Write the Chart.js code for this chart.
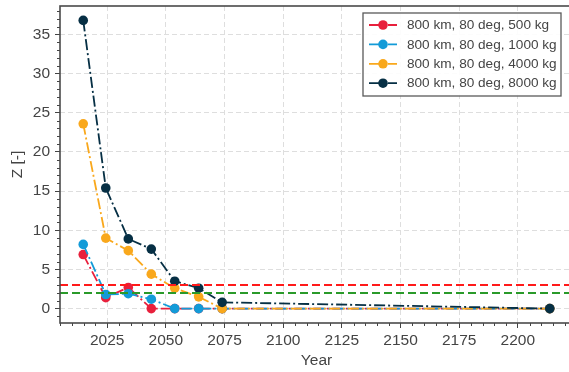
<!DOCTYPE html>
<html>
<head>
<meta charset="utf-8">
<script src="https://cdn.jsdelivr.net/npm/chart.js@4/dist/chart.umd.min.js"></script>
<style>
  html, body { margin: 0; padding: 0; overflow: hidden; background: #ffffff; }
  #wrap { width: 580px; height: 372px; }
</style>
</head>
<body>
<div id="wrap"><canvas id="chart" width="580" height="372"></canvas></div>
<script>
// Launch years shared by every configuration
const years = [2014.8, 2024.4, 2034.0, 2043.8, 2053.8, 2064.0, 2074.0, 2213.6];

// Z [-] for each spacecraft mass (800 km, 80 deg orbit)
const z500  = [6.9, 1.4, 2.7, 0.0, 0.0, 0.0, 0.0, 0.0];
const z1000 = [8.2, 1.8, 1.9, 1.2, 0.0, 0.0, 0.0, 0.0];
const z4000 = [23.6, 9.0, 7.4, 4.4, 2.6, 1.5, 0.0, 0.0];
const z8000 = [36.8, 15.4, 8.9, 7.6, 3.5, 2.6, 0.8, 0.0];

const seriesLabels = [
  '800 km, 80 deg, 500 kg',
  '800 km, 80 deg, 1000 kg',
  '800 km, 80 deg, 4000 kg',
  '800 km, 80 deg, 8000 kg'
];

// Reference thresholds
const limitUpper = 3;
const limitLower = 2;

// Axis ticks
const xTicks = [2025, 2050, 2075, 2100, 2125, 2150, 2175, 2200];
const yTicks = [0, 5, 10, 15, 20, 25, 30, 35];
const xMinorStep = 5;
const yMinorStep = 1;

const X_MIN = 2004.9, X_MAX = 2223.5;
const Y_MIN = -1.84, Y_MAX = 38.64;

const colors = ['#e8203c', '#139bd8', '#f9a81c', '#062f44'];
const TEXT = '#444444';
const FONT = "'Liberation Sans', Arial, sans-serif";

const seriesValues = [z500, z1000, z4000, z8000];
const lineDash = [11, 3, 2, 3];

const datasets = seriesValues.map((vals, i) => ({
  label: seriesLabels[i],
  data: years.map((x, k) => ({ x: x, y: vals[k] })),
  borderColor: colors[i],
  backgroundColor: colors[i],
  pointBackgroundColor: colors[i],
  pointBorderColor: colors[i],
  pointBorderWidth: 0,
  pointRadius: 4.8,
  borderWidth: 1.8,
  borderDash: lineDash,
  tension: 0,
  order: 4 - i + 1
}));

datasets.push({
  label: 'upper',
  data: [{ x: X_MIN, y: limitUpper }, { x: X_MAX, y: limitUpper }],
  borderColor: '#ff1a1a',
  borderWidth: 2,
  borderDash: [8, 4],
  pointRadius: 0,
  order: 0
});
datasets.push({
  label: 'lower',
  data: [{ x: X_MIN, y: limitLower }, { x: X_MAX, y: limitLower }],
  borderColor: '#2a9a2a',
  borderWidth: 2,
  borderDash: [8, 4],
  pointRadius: 0,
  order: 0
});

// Minor ticks, frame and boxed legend
const decorations = {
  id: 'decorations',
  afterDraw(chart) {
    const ctx = chart.ctx;
    const a = chart.chartArea;
    const xs = chart.scales.x, ys = chart.scales.y;
    ctx.save();
    ctx.strokeStyle = TEXT;
    ctx.lineWidth = 1;
    ctx.setLineDash([]);
    // minor ticks on x
    for (let v = Math.ceil(X_MIN / xMinorStep) * xMinorStep; v <= X_MAX; v += xMinorStep) {
      if (xTicks.includes(v)) continue;
      const px = Math.round(xs.getPixelForValue(v)) + 0.5;
      ctx.beginPath();
      ctx.moveTo(px, a.bottom);
      ctx.lineTo(px, a.bottom + 3);
      ctx.stroke();
    }
    // minor ticks on y
    for (let v = Math.ceil(Y_MIN / yMinorStep) * yMinorStep; v <= Y_MAX; v += yMinorStep) {
      if (yTicks.includes(v)) continue;
      const py = Math.round(ys.getPixelForValue(v)) + 0.5;
      ctx.beginPath();
      ctx.moveTo(a.left, py);
      ctx.lineTo(a.left - 3, py);
      ctx.stroke();
    }
    // frame
    ctx.lineWidth = 1.6;
    ctx.strokeStyle = '#4a4a4a';
    ctx.strokeRect(a.left, a.top, a.right - a.left, a.bottom - a.top);

    // legend
    const lx = 363, ly = 13, lw = 198, lh = 83;
    ctx.fillStyle = 'rgba(255,255,255,0.9)';
    ctx.fillRect(lx, ly, lw, lh);
    ctx.lineWidth = 1.3;
    ctx.strokeStyle = '#595959';
    ctx.strokeRect(lx, ly, lw, lh);
    ctx.font = '13.6px ' + FONT;
    ctx.textBaseline = 'middle';
    ctx.textAlign = 'left';
    seriesLabels.forEach((label, i) => {
      const cy = 25 + i * 19.4;
      ctx.strokeStyle = colors[i];
      ctx.lineWidth = 1.8;
      ctx.setLineDash(lineDash);
      ctx.beginPath();
      ctx.moveTo(369, cy);
      ctx.lineTo(397, cy);
      ctx.stroke();
      ctx.setLineDash([]);
      ctx.fillStyle = colors[i];
      ctx.beginPath();
      ctx.arc(383, cy, 4.8, 0, Math.PI * 2);
      ctx.fill();
      ctx.fillStyle = TEXT;
      ctx.fillText(label, 407, cy + 0.5);
    });
    ctx.restore();
  }
};

new Chart(document.getElementById('chart'), {
  type: 'line',
  data: { datasets: datasets },
  options: {
    responsive: false,
    animation: false,
    devicePixelRatio: 1,
    events: [],
    layout: { padding: { left: 0, top: 6, right: 7, bottom: 0 } },
    plugins: { legend: { display: false }, tooltip: { enabled: false } },
    scales: {
      x: {
        type: 'linear',
        min: X_MIN,
        max: X_MAX,
        afterBuildTicks: s => { s.ticks = xTicks.map(v => ({ value: v })); },
        afterFit: s => { s.height = 49; s.paddingLeft = 0; s.paddingRight = 0; },
        ticks: {
          color: TEXT,
          font: { family: FONT, size: 15.5 },
          padding: 3,
          maxRotation: 0,
          autoSkip: false,
          callback: v => String(v)
        },
        grid: {
          color: '#dedede',
          lineWidth: 1,
          tickLength: 5,
          tickColor: TEXT,
          tickWidth: 1,
          tickBorderDash: []
        },
        border: { display: false, dash: [5, 3] },
        title: {
          display: true,
          text: 'Year',
          color: TEXT,
          font: { family: FONT, size: 15.5 },
          padding: { top: 0, bottom: 2 }
        }
      },
      y: {
        type: 'linear',
        min: Y_MIN,
        max: Y_MAX,
        afterBuildTicks: s => { s.ticks = yTicks.map(v => ({ value: v })); },
        afterFit: s => { s.width = 60; s.paddingTop = 0; s.paddingBottom = 0; },
        ticks: {
          color: TEXT,
          font: { family: FONT, size: 15.5 },
          padding: 5,
          callback: v => String(v)
        },
        grid: {
          color: '#dedede',
          lineWidth: 1,
          tickLength: 5,
          tickColor: TEXT,
          tickWidth: 1,
          tickBorderDash: []
        },
        border: { display: false, dash: [5, 3] },
        title: {
          display: true,
          text: 'Z [-]',
          color: TEXT,
          font: { family: FONT, size: 15.5 },
          padding: { top: 8.5, bottom: 0 }
        }
      }
    }
  },
  plugins: [decorations]
});
</script>
</body>
</html>
